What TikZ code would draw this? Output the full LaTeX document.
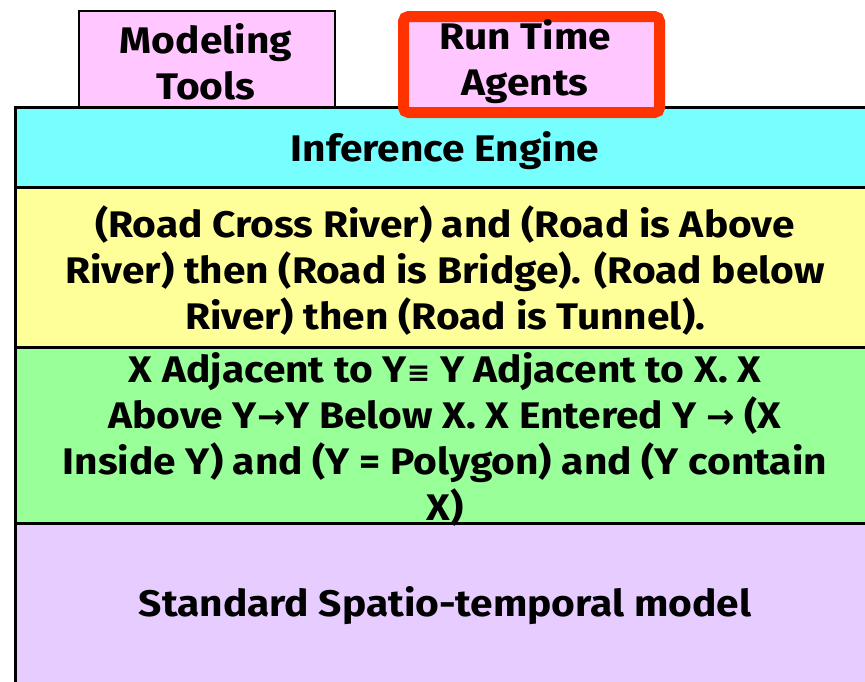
\documentclass[tikz,border=0pt]{standalone}
\usepackage{fontspec}
\setmainfont{Fira Sans}[FakeStretch=1.1]
\definecolor{toolpink}{RGB}{255,198,255}
\definecolor{engcyan}{RGB}{119,255,255}
\definecolor{ruleyellow}{RGB}{255,255,153}
\definecolor{axgreen}{RGB}{153,255,153}
\definecolor{modlav}{RGB}{230,204,255}
\definecolor{agentred}{RGB}{255,51,0}
\newfontfamily\symfont{DejaVu Sans}
\newcommand\equivsym{{\symfont\fontsize{28}{28}\selectfont ≡}}
\newcommand\implsym{{\symfont\fontsize{34}{34}\selectfont →}}
\begin{document}
\begin{tikzpicture}[x=1pt,y=-1pt,
  layer/.style={draw=black,line width=2.5pt,anchor=north west,inner sep=0pt,minimum width=862pt},
  label/.style={align=center,inner sep=0pt,font=\fontsize{37}{46}\selectfont\bfseries},
  toolbox/.style={draw=black,line width=2pt,fill=toolpink,anchor=north west,inner sep=0pt}]
\useasboundingbox (0,0) rectangle (865,681);
% stacked layers
\node[layer,fill=modlav,minimum height=190pt] (model) at (14,522) {};
\node[layer,fill=axgreen,minimum height=176pt] (axioms) at (14,346) {};
\node[layer,fill=ruleyellow,minimum height=160pt] (rules) at (14,186) {};
\node[layer,fill=engcyan,minimum height=80pt] (engine) at (14,106) {};
% components on top
\node[toolbox,minimum width=256pt,minimum height=96pt] (tools) at (78,10) {};
\node[draw=agentred,line width=11pt,rounded corners=5pt,fill=toolpink,anchor=north west,inner sep=0pt,minimum width=256pt,minimum height=96pt] (agents) at (398,11) {};
% texts
\node[label] (toolstxt) at (206,62) {Modeling\\Tools};
\node[label] (agentstxt) at (525,62) {Run Time\\Agents};
\node[label] (enginetxt) at (445,151) {Inference Engine};
\node[label] (rulestxt) at (445,271) {(Road Cross River) and (Road is Above\\River) then (Road is Bridge). (Road below\\River) then (Road is Tunnel).};
\node[label] (axiomstxt) at (445,439) {X Adjacent to Y\equivsym{} Y Adjacent to X. X\\Above Y\implsym{}Y Below X. X Entered Y \implsym{} (X\\Inside Y) and (Y = Polygon) and (Y contain\\X)};
\node[label] (modeltxt) at (445,606) {Standard Spatio-temporal model};
\end{tikzpicture}
\end{document}
